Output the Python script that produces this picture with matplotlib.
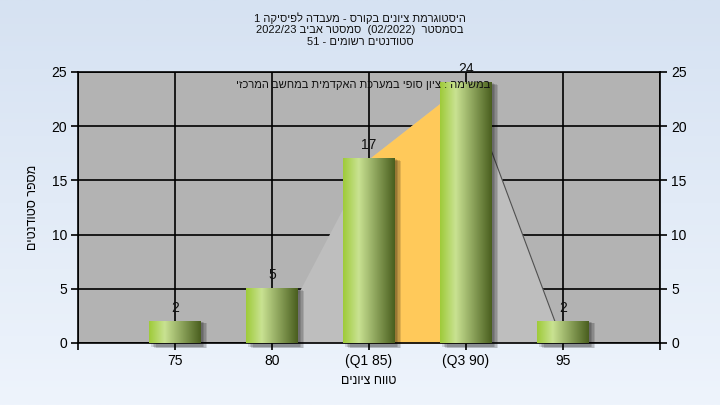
import re
import numpy as np
import matplotlib
matplotlib.use('Agg')
import matplotlib.pyplot as plt
from matplotlib.colors import LinearSegmentedColormap
from matplotlib.patches import Rectangle

plt.rcParams['font.family'] = ['Liberation Sans', 'DejaVu Sans']

# נתונים
grades = ['75', '80', '(Q1 85)', '(Q3 90)', '95']
counts = [2, 5, 17, 24, 2]
area_vals = [0, 0, 17, 24, 0]
q1_idx, q3_idx = 2, 3
y_ticks = [0, 5, 10, 15, 20, 25]

title_lines = ['היסטוגרמת ציונים בקורס - מעבדה לפיסיקה 1',
               'בסמסטר  (02/2022)  סמסטר אביב 2022/23',
               'סטודנטים רשומים - 51']
note = 'במשימה : ציון סופי במערכת האקדמית במחשב המרכזי'
x_title = 'טווח ציונים'
y_title = 'מספר סטודנטים'


# matplotlib לא מטפל בכיווניות - הופכים ידנית (מספרים נשארים כמו שהם)
def rtl(s):
    toks = re.findall(r'\d[\d/.]*\d|\d|.', s)
    out = ''
    for t in reversed(toks):
        out += t if t[0].isdigit() else {'(': ')', ')': '('}.get(t, t)
    return out


fig = plt.figure(figsize=(7.2, 4.05), dpi=100)

# רקע עם מעבר צבע
bg = fig.add_axes([0, 0, 1, 1], zorder=-10)
bg_cmap = LinearSegmentedColormap.from_list('bg', ['#eef4fc', '#d6e2f2'])
bg.imshow(np.linspace(0, 1, 200).reshape(-1, 1), cmap=bg_cmap, origin='lower',
          aspect='auto', extent=[0, 1, 0, 1])
bg.axis('off')

ax = fig.add_axes([78 / 720, 1 - 343 / 405, 582 / 720, 271 / 405])
ax.set_facecolor('#b3b3b3')
xs = np.arange(1, len(grades) + 1)

# שטח ברקע + טווח רבעונים
ax.fill_between(xs, area_vals, color='#bebebe', lw=0, zorder=1)
ax.fill_between(xs[q1_idx:q3_idx + 1], area_vals[q1_idx:q3_idx + 1],
                color='#ffc95a', lw=0, zorder=1.2)
ax.plot(xs[q3_idx:], area_vals[q3_idx:], color='#505050', lw=0.8, zorder=1.3)

# עמודות
bar_cmap = LinearSegmentedColormap.from_list(
    'bar', [(0, '#9fcb3a'), (0.3, '#c9e292'), (1, '#4a5f1f')])
grad = np.linspace(0, 1, 100).reshape(1, -1)
w = 0.53
for x, c in zip(xs, counts):
    for k in range(4):
        ax.add_patch(Rectangle((x - w / 2 + 0.02 + 0.015 * k, -0.35 - 0.04 * k), w, c + 0.3,
                               color='black', alpha=0.12, lw=0, zorder=2, clip_on=False))
    ax.imshow(grad, cmap=bar_cmap, extent=[x - w / 2, x + w / 2, 0, c],
              aspect='auto', zorder=3)
    ax.text(x, c + 0.6, str(c), ha='center', va='bottom', fontsize=10,
            color='#111111', zorder=4)

ax.set_xlim(0, 6)
ax.set_ylim(0, 25)
ax.set_xticks(range(0, 7))
ax.set_xticklabels([''] + grades + [''])
ax.set_yticks(y_ticks)
ax.grid(True, color='black', lw=1.2)
ax.set_axisbelow(True)
for s in ax.spines.values():
    s.set_color('black')
    s.set_linewidth(1.2)
ax.tick_params(axis='y', direction='out', length=5, width=1.2, left=True, right=True,
               labelleft=True, labelright=True, labelsize=10, pad=3)
ax.tick_params(axis='x', direction='out', length=5, width=1.2, labelsize=10, pad=3)

ax.text(0.708, 0.952, rtl(note), transform=ax.transAxes, ha='right', va='center',
        fontsize=8, color='#111111', zorder=5)

for i, line in enumerate(title_lines):
    fig.text(0.5, 1 - (18 + 12 * i) / 405, rtl(line), ha='center', va='center',
             fontsize=8, color='#111111')
fig.text(369 / 720, 1 - 381 / 405, rtl(x_title), ha='center', va='center', fontsize=9)
fig.text(33 / 720, 1 - 207 / 405, rtl(y_title), ha='center', va='center',
         rotation=90, fontsize=9)

fig.savefig('out.png', dpi=100)
